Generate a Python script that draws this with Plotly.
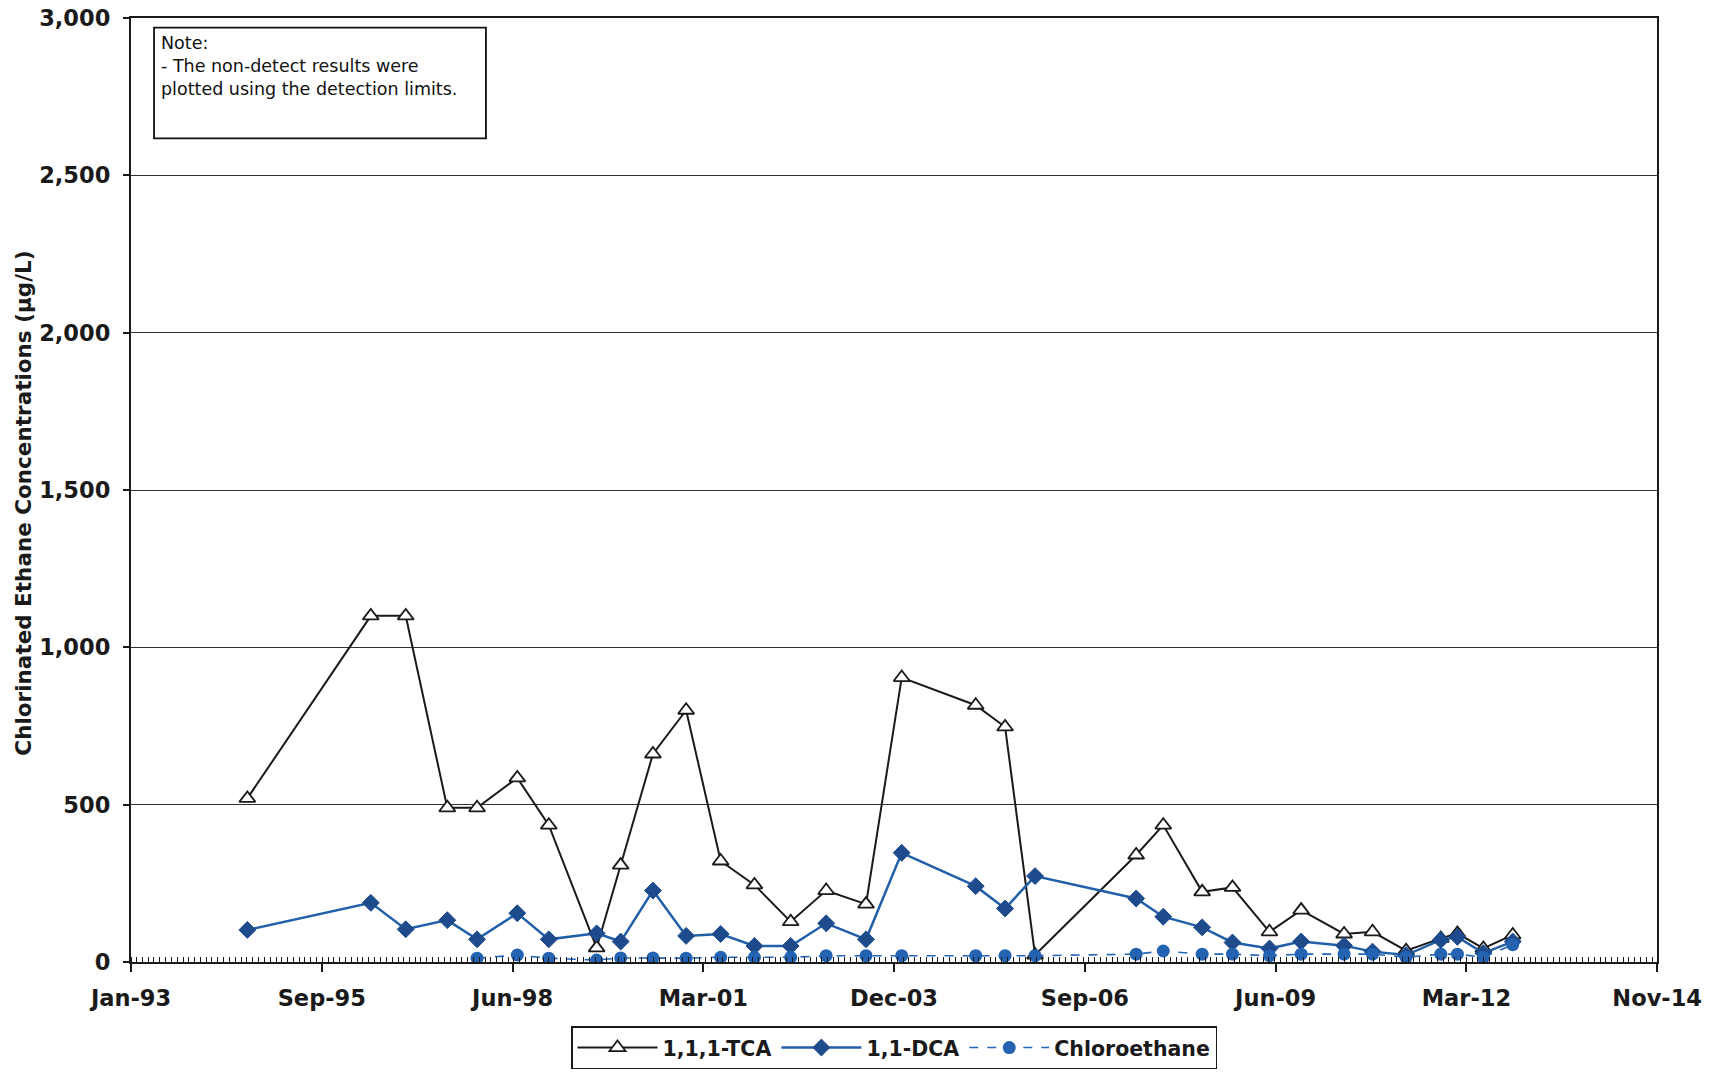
import plotly.graph_objects as go

# Sampling dates shared by 1,1,1-TCA and 1,1-DCA
dates = [
    "1994-09-03", "1996-06-11", "1996-12-11", "1997-07-17", "1997-12-20",
    "1998-07-19", "1998-12-31", "1999-09-08", "2000-01-12", "2000-06-29",
    "2000-12-20", "2001-06-19", "2001-12-13", "2002-06-21", "2002-12-24",
    "2003-07-21", "2004-01-24", "2005-02-15", "2005-07-19", "2005-12-23",
    "2007-06-06", "2007-10-26", "2008-05-17", "2008-10-23", "2009-05-05",
    "2009-10-18", "2010-05-31", "2010-10-27", "2011-04-21", "2011-10-20",
    "2012-01-15", "2012-05-30", "2012-10-31",
]

tca = [520, 1100, 1100, 490, 490, 585, 435, 45, 308, 661, 800, 321, 245, 128,
       227, 184, 904, 816, 747, 22, 340, 435, 223, 237, 96, 165, 89, 96, 36,
       75, 91, 43, 86]

dca = [102, 188, 104, 133, 72, 155, 72, 91, 65, 227, 83, 89, 51, 51, 123, 72,
       347, 241, 170, 273, 202, 144, 110, 62, 43, 65, 52, 33, 22, 70, 80, 28, 65]

# Chloroethane was analysed from December 1997 onward
ce_dates = dates[4:]
chloroethane = [12, 22, 12, 6, 13, 13, 12, 15, 15, 15, 20, 20, 20, 20, 20, 20,
                25, 35, 25, 25, 20, 25, 25, 25, 15, 25, 25, 15, 55]

series_names = ["1,1,1-TCA", "1,1-DCA", "Chloroethane"]

FONT = "DejaVu Sans, Arial, sans-serif"
INK = "#1a1a1a"

fig = go.Figure()

fig.add_trace(go.Scatter(
    x=dates, y=tca, name=series_names[0], mode="lines+markers",
    line=dict(color=INK, width=2),
    marker=dict(symbol="triangle-up", size=14, color="white",
                line=dict(color=INK, width=1.8)),
))

fig.add_trace(go.Scatter(
    x=dates, y=dca, name=series_names[1], mode="lines+markers",
    line=dict(color="#2160a8", width=2.5),
    marker=dict(symbol="diamond", size=13, color="#1d4b8c",
                line=dict(color="#1d4b8c", width=1)),
))

fig.add_trace(go.Scatter(
    x=ce_dates, y=chloroethane, name=series_names[2], mode="lines+markers",
    line=dict(color="#2266b8", width=1.6, dash="dash"),
    marker=dict(symbol="circle", size=13, color="#2363b2"),
))

# Note box in the upper-left corner of the plot area
fig.add_shape(type="rect", xref="paper", yref="paper",
              x0=0.0151, x1=0.2326, y0=0.8724, y1=0.9899,
              line=dict(color="#111111", width=1.8), fillcolor="white",
              layer="above")
fig.add_annotation(
    xref="paper", yref="paper", x=0.0185, y=0.986,
    xanchor="left", yanchor="top", align="left", showarrow=False,
    text="Note:<br>- The non-detect results were<br>plotted using the detection limits.",
    font=dict(family=FONT, size=17.5, color="#111111"),
)

# Rotated y-axis title
fig.add_annotation(
    xref="paper", yref="paper", x=-0.0705, y=0.486,
    xanchor="center", yanchor="middle", showarrow=False, textangle=-90,
    text="Chlorinated Ethane Concentrations (µg/L)",
    font=dict(family=FONT, size=21.5, color=INK, weight="bold"),
)

DAY_MS = 86400000

fig.update_layout(
    width=1717, height=1074,
    margin=dict(l=131, r=60, t=18, b=112),
    paper_bgcolor="white", plot_bgcolor="white",
    showlegend=True,
    legend=dict(
        orientation="h", x=0.5, xanchor="center",
        yref="container", y=0.0445, yanchor="top",
        font=dict(family=FONT, size=20.5, color=INK, weight="bold"),
        bordercolor=INK, borderwidth=1.5, bgcolor="white",
        itemwidth=80, tracegroupgap=0,
    ),
    font=dict(family=FONT, color=INK),
)

fig.update_xaxes(
    type="date",
    range=["1993-01-01", "2014-11-26 06:00"],
    tick0="1993-01-01", dtick=1000 * DAY_MS,
    tickformat="%b-%y",
    ticks="outside", ticklen=8, tickwidth=1.5, tickcolor=INK,
    tickfont=dict(family=FONT, size=22.5, color=INK, weight="bold"),
    ticklabelstandoff=7,
    minor=dict(ticks="inside", dtick="M1", ticklen=5, tickwidth=1,
               tickcolor=INK, showgrid=False),
    showgrid=False, zeroline=False, automargin=False,
    showline=True, linecolor=INK, linewidth=2.4, mirror=True,
)

fig.update_yaxes(
    range=[0, 3000], tick0=0, dtick=500, tickformat=",d",
    ticks="outside", ticklen=6, tickwidth=1.5, tickcolor=INK,
    tickfont=dict(family=FONT, size=22.5, color=INK, weight="bold"),
    ticklabelstandoff=8,
    showgrid=True, gridcolor="#333333", gridwidth=1.2,
    zeroline=False, automargin=False,
    showline=True, linecolor=INK, linewidth=2.4, mirror=True,
)

fig.write_html("out.html")
